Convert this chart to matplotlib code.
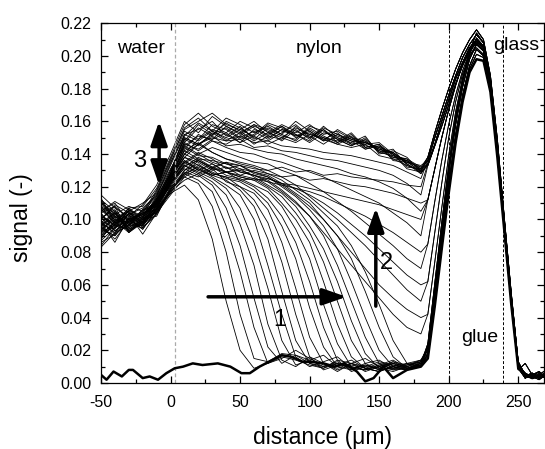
import numpy as np
import matplotlib.pyplot as plt

plt.rcParams["font.family"] = ["Liberation Sans", "DejaVu Sans"]
plt.rcParams["axes.unicode_minus"] = False

# distance grid (um): profile part and glue/glass peak part
x_main = [-50, -40, -30, -20, -10, 0, 10, 20, 30, 40, 50, 60,
          70, 80, 90, 100, 110, 120, 130, 140, 150, 160, 170, 180]
x_peak = [185, 190, 195, 200, 205, 210, 215, 220, 225,
          230, 235, 240, 245, 250, 255, 260, 265, 270]

# signal values in 1/1000
# front moving into the nylon (arrow 1)
A1 = [98, 86, 101, 97, 106, 116, 121, 112, 88, 50, 20, 9, 12, 16, 14, 11, 9, 12, 10, 8, 11, 9, 12, 14]
A2 = [103, 96, 94, 100, 110, 120, 126, 122, 108, 80, 42, 15, 13, 18, 17, 12, 10, 13, 8, 11, 9, 12, 10, 13]
A3 = [88, 99, 105, 95, 104, 118, 128, 124, 117, 96, 68, 34, 12, 15, 20, 15, 11, 9, 12, 7, 10, 13, 9, 12]
A4 = [110, 104, 97, 102, 112, 123, 131, 127, 121, 107, 84, 52, 22, 12, 17, 14, 10, 12, 9, 11, 8, 12, 10, 14]
A5 = [95, 90, 100, 104, 106, 117, 124, 128, 123, 115, 97, 72, 36, 14, 10, 16, 12, 8, 11, 9, 12, 10, 8, 13]
A6 = [100, 108, 92, 99, 113, 122, 133, 129, 125, 119, 107, 86, 58, 26, 11, 14, 17, 10, 12, 9, 7, 11, 9, 12]
A7 = [92, 97, 103, 91, 104, 115, 126, 131, 126, 121, 115, 100, 72, 42, 16, 10, 13, 16, 9, 8, 10, 12, 8, 11]
A8 = [106, 100, 98, 104, 109, 124, 135, 130, 127, 124, 118, 108, 88, 56, 26, 12, 9, 14, 12, 10, 9, 13, 11, 14]
A9 = [97, 94, 106, 100, 102, 119, 129, 126, 131, 123, 120, 112, 98, 74, 42, 16, 8, 11, 14, 9, 7, 10, 8, 12]
A10 = [84, 95, 99, 96, 107, 116, 130, 134, 128, 126, 120, 116, 106, 86, 58, 28, 12, 7, 12, 15, 10, 8, 11, 13]
A11 = [108, 102, 95, 101, 111, 126, 138, 133, 129, 125, 123, 118, 110, 96, 76, 46, 22, 10, 8, 12, 14, 9, 8, 11]
A12 = [99, 91, 104, 98, 105, 118, 128, 132, 127, 129, 124, 120, 113, 102, 86, 62, 34, 14, 7, 10, 13, 11, 9, 12]
A13 = [93, 103, 97, 106, 108, 121, 133, 136, 132, 127, 125, 121, 117, 108, 94, 76, 48, 24, 10, 8, 11, 14, 9, 11]
A14 = [112, 98, 101, 94, 106, 123, 136, 130, 134, 129, 126, 124, 119, 110, 100, 86, 62, 36, 16, 9, 7, 10, 12, 10]
A15 = [96, 105, 93, 99, 110, 125, 138, 135, 130, 132, 127, 125, 120, 114, 104, 92, 74, 50, 26, 12, 8, 9, 11, 13]
A16 = [102, 97, 107, 100, 104, 120, 132, 138, 134, 129, 131, 126, 121, 116, 108, 96, 82, 62, 38, 18, 9, 7, 10, 12]
A17 = [90, 96, 100, 103, 109, 124, 142, 137, 132, 135, 129, 127, 124, 118, 111, 102, 90, 72, 50, 28, 12, 8, 9, 11]
A18 = [105, 110, 98, 96, 107, 122, 135, 141, 137, 131, 133, 128, 126, 120, 114, 106, 96, 82, 62, 40, 20, 10, 8, 10]
A19 = [98, 92, 104, 101, 112, 127, 144, 139, 138, 134, 131, 129, 127, 122, 116, 110, 100, 90, 76, 56, 34, 16, 9, 11]
A20 = [94, 100, 96, 105, 110, 125, 140, 146, 141, 137, 134, 132, 128, 124, 118, 112, 104, 96, 84, 68, 48, 26, 12, 10]

# signal coming back (arrow 2)
B1 = [101, 93, 99, 104, 108, 121, 134, 140, 135, 132, 129, 127, 123, 117, 110, 102, 92, 82, 72, 62, 52, 42, 34, 30]
B2 = [89, 97, 94, 99, 106, 119, 130, 137, 136, 134, 133, 129, 126, 121, 115, 108, 100, 90, 80, 70, 60, 52, 45, 40]
B3 = [107, 101, 105, 97, 111, 127, 142, 147, 141, 137, 135, 133, 130, 126, 121, 114, 107, 100, 92, 84, 75, 66, 57, 50]
B4 = [95, 104, 92, 101, 104, 118, 128, 136, 131, 129, 130, 127, 125, 122, 119, 115, 110, 104, 97, 90, 82, 74, 66, 60]
B5 = [113, 99, 103, 107, 115, 131, 145, 140, 144, 141, 138, 135, 134, 130, 127, 122, 117, 111, 105, 98, 91, 84, 76, 70]
B6 = [86, 91, 97, 95, 103, 117, 127, 133, 128, 126, 124, 125, 123, 121, 119, 117, 114, 110, 106, 102, 97, 92, 86, 80]
B7 = [104, 108, 100, 103, 112, 128, 147, 142, 148, 144, 141, 140, 137, 135, 132, 129, 126, 122, 118, 114, 110, 104, 98, 90]
B8 = [99, 95, 106, 98, 109, 124, 136, 131, 127, 129, 126, 124, 125, 122, 121, 119, 117, 115, 113, 111, 109, 106, 103, 100]
B9 = [92, 102, 96, 106, 110, 129, 150, 146, 151, 145, 146, 143, 141, 140, 137, 135, 133, 131, 128, 126, 123, 119, 113, 105]
B10 = [108, 97, 102, 100, 107, 123, 133, 128, 132, 129, 127, 130, 128, 126, 127, 124, 125, 123, 121, 120, 118, 116, 113, 110]
B11 = [96, 88, 99, 102, 113, 130, 149, 145, 153, 148, 149, 144, 145, 142, 141, 139, 137, 136, 134, 132, 130, 127, 122, 115]
B12 = [101, 106, 93, 98, 108, 126, 140, 136, 131, 135, 133, 131, 130, 132, 129, 130, 127, 128, 126, 125, 124, 123, 121, 120]
B13 = [110, 103, 108, 105, 114, 128, 152, 148, 154, 149, 151, 147, 148, 145, 144, 143, 141, 140, 139, 137, 135, 133, 129, 125]

# saturated profiles (arrow 3)
C1 = [97, 101, 95, 100, 111, 128, 148, 158, 152, 156, 150, 154, 149, 155, 151, 153, 148, 150, 146, 147, 143, 140, 136, 131]
C2 = [104, 93, 98, 106, 115, 133, 152, 155, 160, 151, 157, 149, 156, 152, 148, 156, 151, 147, 152, 144, 146, 139, 135, 130]
C3 = [91, 98, 103, 96, 109, 126, 145, 151, 149, 157, 153, 158, 151, 149, 157, 150, 155, 149, 145, 149, 142, 141, 134, 129]
C4 = [112, 105, 99, 104, 118, 136, 156, 162, 154, 150, 155, 151, 158, 154, 152, 147, 153, 151, 148, 143, 145, 138, 137, 132]
C5 = [83, 92, 96, 99, 107, 124, 140, 149, 155, 152, 147, 155, 152, 157, 150, 154, 149, 153, 146, 148, 141, 143, 133, 130]
C6 = [100, 109, 104, 97, 112, 130, 150, 146, 152, 159, 154, 148, 153, 150, 156, 152, 150, 146, 150, 145, 144, 137, 136, 128]
C7 = [106, 98, 107, 108, 119, 138, 158, 165, 157, 153, 160, 156, 150, 155, 153, 158, 152, 154, 149, 146, 147, 140, 132, 131]
C8 = [94, 90, 101, 103, 110, 125, 143, 152, 148, 146, 151, 157, 154, 148, 155, 149, 157, 150, 147, 151, 140, 142, 138, 129]
C9 = [109, 102, 97, 101, 114, 134, 154, 149, 158, 155, 149, 152, 159, 156, 151, 155, 150, 148, 153, 144, 146, 136, 135, 133]
C10 = [87, 95, 100, 94, 106, 127, 147, 156, 151, 160, 156, 150, 148, 153, 158, 151, 146, 152, 148, 147, 143, 141, 134, 128]
C11 = [115, 107, 102, 109, 121, 140, 160, 153, 163, 157, 152, 158, 155, 151, 149, 157, 154, 149, 145, 150, 141, 139, 137, 130]
C12 = [98, 104, 94, 97, 105, 122, 138, 146, 150, 148, 153, 146, 151, 157, 152, 148, 155, 147, 151, 143, 145, 140, 131, 129]
C13 = [102, 96, 105, 110, 116, 135, 151, 159, 154, 162, 158, 153, 157, 152, 160, 154, 148, 155, 150, 148, 142, 138, 136, 131]
C14 = [90, 99, 92, 98, 108, 123, 146, 143, 149, 153, 147, 151, 146, 150, 147, 152, 149, 146, 144, 146, 139, 137, 133, 130]
C15 = [105, 111, 106, 102, 117, 137, 155, 160, 165, 158, 155, 160, 153, 158, 154, 150, 156, 152, 149, 147, 144, 141, 135, 132]

# glue/glass peak, by starting level
PL1 = [18, 52, 88, 122, 152, 176, 194, 204, 200, 180, 140, 95, 50, 10, 4, 6, 3, 4]
PL2 = [22, 58, 95, 130, 158, 181, 198, 207, 203, 182, 143, 97, 52, 12, 3, 5, 7, 3]
PL3 = [15, 47, 82, 116, 147, 172, 190, 198, 197, 178, 138, 93, 48, 9, 5, 3, 4, 6]
PL4 = [20, 55, 92, 127, 160, 184, 201, 211, 206, 185, 146, 99, 53, 11, 6, 4, 2, 5]
PL5 = [17, 50, 86, 120, 150, 174, 192, 201, 199, 179, 139, 94, 49, 8, 12, 5, 3, 4]
PL6 = [24, 61, 98, 133, 163, 186, 203, 214, 208, 186, 147, 100, 54, 13, 4, 3, 5, 8]
PM1 = [42, 74, 107, 139, 166, 186, 200, 207, 203, 182, 143, 97, 51, 11, 4, 5, 3, 4]
PM2 = [62, 92, 122, 150, 172, 189, 200, 205, 201, 181, 142, 96, 51, 10, 4, 5, 3, 4]
PM3 = [85, 111, 136, 158, 176, 191, 202, 209, 204, 183, 144, 98, 52, 12, 5, 3, 6, 4]
PM4 = [112, 131, 150, 167, 182, 195, 204, 209, 205, 184, 145, 98, 52, 11, 4, 6, 4, 5]
PH1 = [136, 150, 163, 176, 188, 199, 207, 213, 208, 186, 147, 99, 53, 11, 4, 6, 3, 5]
PH2 = [134, 146, 160, 173, 186, 196, 205, 210, 206, 184, 145, 97, 51, 10, 6, 3, 5, 4]
PH3 = [138, 153, 167, 180, 192, 202, 210, 216, 210, 188, 149, 101, 55, 13, 5, 4, 7, 3]
PH4 = [133, 145, 157, 170, 183, 194, 203, 208, 203, 182, 143, 96, 50, 9, 3, 5, 4, 6]

# dry reference profile (bold line)
ref_x = [-50, -46, -41, -35, -30, -27, -20, -15, -9, -3, 3, 9, 16, 23, 34, 43, 51,
         57, 64, 73, 80, 87, 95, 100, 110, 118, 125, 134, 140, 146, 153, 160, 170, 180]
ref_y = [5, 2, 7, 4, 8, 8, 3, 4, 2, 6, 9, 10, 12, 11, 12, 10, 6,
         6, 10, 14, 17, 16, 13, 13, 12, 10, 12, 7, 1, 3, 10, 3, 8, 10]

front = [A1, A2, A3, A4, A5, A6, A7, A8, A9, A10,
         A11, A12, A13, A14, A15, A16, A17, A18, A19, A20]
front_peaks = [PL1, PL2, PL3, PL4, PL5, PL6, PL1, PL2, PL3, PL4,
               PL5, PL6, PL1, PL2, PL3, PL4, PL5, PL6, PL1, PL2]
back = [B1, B2, B3, B4, B5, B6, B7, B8, B9, B10, B11, B12, B13]
back_peaks = [PM1, PM1, PM2, PM2, PM3, PM3, PM4, PM4, PM4, PM4, PH4, PH2, PH1]
final = [C1, C2, C3, C4, C5, C6, C7, C8, C9, C10, C11, C12, C13, C14, C15]
final_peaks = [PH1, PH2, PH3, PH4, PH1, PH2, PH3, PH4, PH1, PH2, PH3, PH4, PH1, PH2, PH3]

fig = plt.figure(figsize=(5.45, 4.49), dpi=100)
ax = fig.add_axes([0.1853, 0.147, 0.8128, 0.8013])

x_all = x_main + x_peak
for curves, peaks in [(front, front_peaks), (back, back_peaks), (final, final_peaks)]:
    for c, p in zip(curves, peaks):
        ax.plot(x_all, np.array(c + p) / 1000, color="k", lw=0.6)
ax.plot(ref_x + x_peak, np.array(ref_y + PL3) / 1000, color="k", lw=1.8, zorder=3)

# layer boundaries
ax.axvline(3, color="#aaaaaa", ls=(0, (3, 2)), lw=0.9)
ax.axvline(200.5, color="k", ls=(0, (3, 2)), lw=0.7)
ax.axvline(239, color="k", ls=(0, (3, 2)), lw=0.7)

ax.text(-21.5, 0.2045, "water", fontsize=14, ha="center", va="center")
ax.text(107, 0.2045, "nylon", fontsize=14, ha="center", va="center")
ax.text(248.5, 0.2065, "glass", fontsize=14, ha="center", va="center")
ax.text(222.5, 0.028, "glue", fontsize=14, ha="center", va="center")

head = "head_length=0.8,head_width=0.28"
ax.annotate("", xy=(126.5, 0.0527), xytext=(27, 0.0527),
            arrowprops=dict(arrowstyle="-|>," + head, lw=2.5, color="k",
                            mutation_scale=18, shrinkA=0, shrinkB=0))
ax.annotate("", xy=(147.6, 0.107), xytext=(147.6, 0.047),
            arrowprops=dict(arrowstyle="-|>," + head, lw=2.5, color="k",
                            mutation_scale=18, shrinkA=0, shrinkB=0))
ax.annotate("", xy=(-8.2, 0.160), xytext=(-8.2, 0.121),
            arrowprops=dict(arrowstyle="<|-|>," + head, lw=2.5, color="k",
                            mutation_scale=18, shrinkA=0, shrinkB=0))
ax.text(78.7, 0.0385, "1", fontsize=17, ha="center", va="center")
ax.text(155.4, 0.0735, "2", fontsize=17, ha="center", va="center")
ax.text(-22.4, 0.136, "3", fontsize=17, ha="center", va="center")

ax.set_xlim(-50, 268.5)
ax.set_ylim(0, 0.22)
ax.set_xticks([-50, 0, 50, 100, 150, 200, 250])
ax.set_xticks([-25, 25, 75, 125, 175, 225], minor=True)
ax.set_yticks(np.arange(0, 0.221, 0.02))
ax.set_yticks(np.arange(0.01, 0.22, 0.02), minor=True)
ax.yaxis.set_major_formatter(plt.FormatStrFormatter("%.2f"))
ax.tick_params(which="both", direction="in", top=True, right=True, labelsize=11.5)
ax.tick_params(which="major", length=5, width=0.9)
ax.tick_params(which="minor", length=3, width=0.9)
ax.tick_params(axis="x", pad=9)
ax.tick_params(axis="y", pad=7)
for s in ax.spines.values():
    s.set_linewidth(0.9)

ax.set_xlabel("distance (\u03bcm)", fontsize=16.5, labelpad=11)
ax.set_ylabel("signal (-)", fontsize=16.5)
ax.yaxis.set_label_coords(-0.1535, 0.46)

fig.savefig("out.png", dpi=100)
